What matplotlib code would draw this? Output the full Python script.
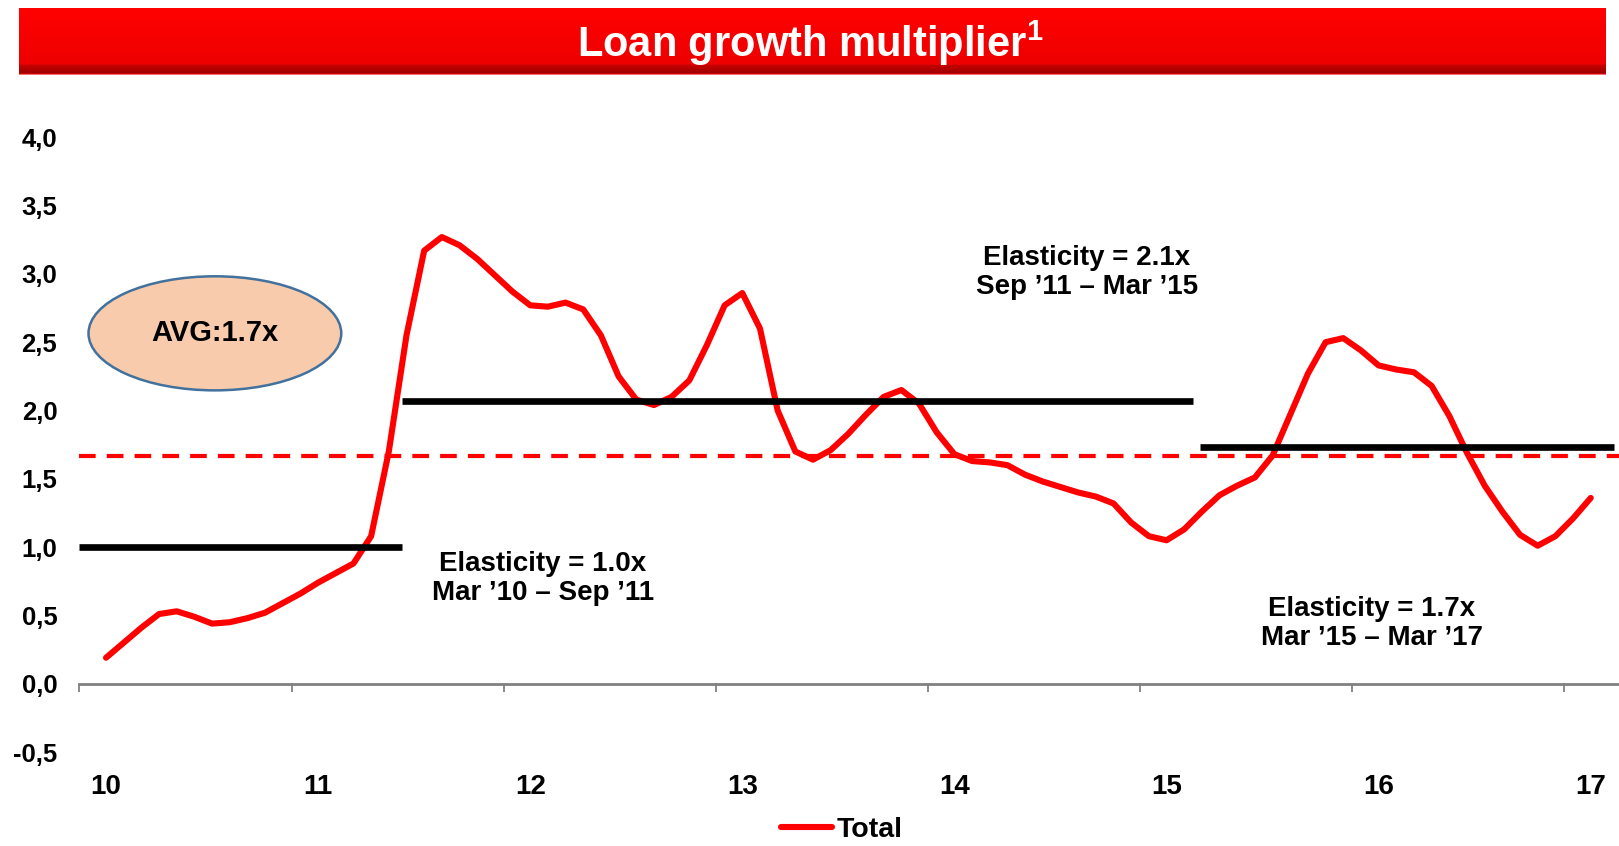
# Loan growth multiplier chart with elasticity periods

import numpy as np
import matplotlib.pyplot as plt
from matplotlib.patches import Ellipse

plt.rcParams['font.family'] = ['Liberation Sans', 'DejaVu Sans']
plt.rcParams['mathtext.fontset'] = 'custom'
plt.rcParams['mathtext.rm'] = 'Liberation Sans'
plt.rcParams['mathtext.bf'] = 'Liberation Sans:bold'
plt.rcParams['lines.scale_dashes'] = False

# monthly values, Mar '10 .. Mar '17 (month index 0 = Mar '10)
total = [0.19, 0.30, 0.41, 0.51, 0.53, 0.49, 0.44, 0.45, 0.48, 0.52, 0.59, 0.66,
         0.74, 0.81, 0.88, 1.08, 1.70, 2.55, 3.17, 3.27, 3.21, 3.11, 2.99, 2.87,
         2.77, 2.76, 2.79, 2.74, 2.55, 2.25, 2.08, 2.04, 2.10, 2.22, 2.48, 2.77,
         2.86, 2.60, 2.00, 1.70, 1.64, 1.71, 1.83, 1.97, 2.10, 2.15, 2.05, 1.84,
         1.68, 1.63, 1.62, 1.60, 1.53, 1.48, 1.44, 1.40, 1.37, 1.32, 1.18, 1.08,
         1.05, 1.13, 1.26, 1.38, 1.45, 1.51, 1.67, 1.97, 2.27, 2.50, 2.53, 2.44,
         2.33, 2.30, 2.28, 2.18, 1.96, 1.69, 1.45, 1.26, 1.09, 1.01, 1.08, 1.21,
         1.36]
months = np.arange(len(total))

year_labels = ['10', '11', '12', '13', '14', '15', '16', '17']
avg_all = 1.67

# elasticity periods: (start month, end month, level)
period_start = [-1.5, 16.75, 61.9]
period_end = [16.75, 61.5, 85.3]
period_level = [1.0, 2.07, 1.73]
period_text = ['Elasticity = 1.0x\nMar \u201910 \u2013 Sep \u201911',
               'Elasticity = 2.1x\nSep \u201911 \u2013 Mar \u201915',
               'Elasticity = 1.7x\nMar \u201915 \u2013 Mar \u201917']
text_x = [24.7, 55.5, 71.6]
text_y = [0.77, 3.01, 0.44]

fig = plt.figure(figsize=(16.19, 8.46), dpi=100)
ax = fig.add_axes([0.0491, 0.1111, 0.9509, 0.7266])

# red title banner with a vertical gradient
bax = fig.add_axes([0.0115, 0.9113, 0.9802, 0.0792])
bax.axis('off')
r = np.concatenate([[250, 255], np.linspace(255, 238, 53), np.linspace(200, 160, 8), [200, 245]])
g = np.concatenate([[120, 0], np.zeros(53), np.zeros(8), [0, 110]])
grad = np.stack([r, g, g], axis=1)[:, None, :] / 255.0
bax.imshow(grad, aspect='auto', extent=[0, 1, 0, 1])
fig.text(0.5005, 0.9326, r'Loan growth multiplier$^{\mathbf{1}}$', color='white', fontsize=30,
         fontweight='bold', ha='center', va='baseline')

# average line and period levels
ax.plot([-1.5, 85.6], [avg_all, avg_all], color='#FF0000', lw=3, dashes=[12, 8], zorder=2)
ax.plot(months, total, color='#FF0000', lw=4.4, solid_capstyle='round',
        solid_joinstyle='round', label='Total', zorder=3)
for x0, x1, lvl in zip(period_start, period_end, period_level):
    ax.plot([x0, x1], [lvl, lvl], color='black', lw=4.8, solid_capstyle='butt', zorder=4)
for tx, ty, t in zip(text_x, text_y, period_text):
    ax.text(tx, ty, t, ha='center', va='center', fontsize=20, fontweight='bold',
            linespacing=1.15)

# AVG bubble
ax.add_patch(Ellipse((6.16, 2.565), 14.3, 0.835, facecolor='#F7CBAC',
                     edgecolor='#41719C', lw=1.8, zorder=5))
ax.text(6.16, 2.565, 'AVG:1.7x', ha='center', va='center', fontsize=21,
        fontweight='bold', zorder=6)

# axes styling
ax.set_xlim(-1.5, 85.6)
ax.set_ylim(-0.5, 4.0)
for s in ['top', 'right', 'left']:
    ax.spines[s].set_visible(False)
ax.spines['bottom'].set_position(('data', 0))
ax.spines['bottom'].set_color('#808080')
ax.spines['bottom'].set_linewidth(2)

ax.set_xticks([-1.5 + 12 * i for i in range(len(year_labels))])
ax.set_xticklabels([])
ax.tick_params(axis='x', which='major', direction='out', length=6, width=1.3, color='#808080')
ax.set_xticks([12 * i for i in range(len(year_labels))], year_labels, minor=True)
ax.tick_params(axis='x', which='minor', length=0, pad=65, labelsize=20)
for lab in ax.get_xticklabels(minor=True):
    lab.set_fontweight('bold')

yt = np.arange(-0.5, 4.01, 0.5)
ax.set_yticks(yt, [f'{v:.1f}'.replace('.', ',') for v in yt])
ax.tick_params(axis='y', length=0, pad=16, labelsize=18.5)
for lab in ax.get_yticklabels():
    lab.set_fontweight('bold')

fig.legend(loc='center', bbox_to_anchor=(0.52, 0.0185), frameon=False,
           prop={'weight': 'bold', 'size': 20.5}, handlelength=1.8, handletextpad=0.15,
           borderpad=0.1)

fig.savefig('out.png', dpi=100)
